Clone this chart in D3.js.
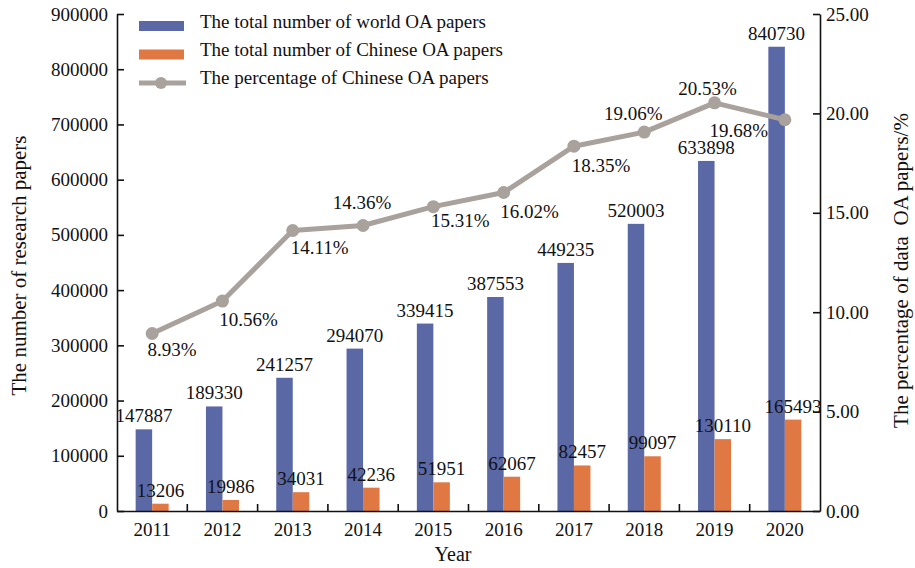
<!DOCTYPE html>
<html>
<head>
<meta charset="utf-8">
<script src="https://cdn.jsdelivr.net/npm/d3@7"></script>
<style>
  html, body { margin: 0; padding: 0; background: #ffffff; }
  svg { display: block; }
  svg text { font-family: "Liberation Serif", "Times New Roman", Times, "DejaVu Serif", serif !important; fill: #111; }
</style>
</head>
<body>
<svg id="chart" width="915" height="568" font-family="Liberation Serif, Times New Roman, serif"></svg>
<script>
// Open access papers, 2011-2020
const years = ["2011", "2012", "2013", "2014", "2015", "2016", "2017", "2018", "2019", "2020"];
const worldPapers = [147887, 189330, 241257, 294070, 339415, 387553, 449235, 520003, 633898, 840730];
const chinaPapers = [13206, 19986, 34031, 42236, 51951, 62067, 82457, 99097, 130110, 165493];
const chinaShare = [8.93, 10.56, 14.11, 14.36, 15.31, 16.02, 18.35, 19.06, 20.53, 19.68];
const leftTicks = [0, 100000, 200000, 300000, 400000, 500000, 600000, 700000, 800000, 900000];
const rightTicks = [0, 5, 10, 15, 20, 25];

const seriesNames = [
  "The total number of world OA papers",
  "The total number of Chinese OA papers",
  "The percentage of Chinese OA papers"
];

// where each percentage label sits relative to its point: [dx to centre, dy to baseline]
const shareLabelOffset = [[20, 23], [26, 25], [27, 24], [-1, -17], [27, 20], [26, 25], [27, 26], [-11, -12], [-7, -8], [-46, 17]];

const C_WORLD = "#5b68a6";
const C_CHINA = "#e07843";
const C_SHARE = "#a9a19c";
const FS = 19;
const FONT = "'Liberation Serif', 'Times New Roman', Times, 'DejaVu Serif', serif";

const svg = d3.select("#chart");
const m = { left: 117, right: 820, top: 14, bottom: 511 };

const x = d3.scaleBand().domain(years).range([m.left, m.right]).padding(0);
const xi = d3.scaleBand().domain(["world", "china"]).range([0, x.bandwidth()])
  .paddingInner(0).paddingOuter(1.13);
const y = d3.scaleLinear().domain([0, 900000]).range([m.bottom, m.top]);
const y2 = d3.scaleLinear().domain([0, 25]).range([m.bottom, m.top]);

const rows = years.map((yr, i) => ({ yr, world: worldPapers[i], china: chinaPapers[i], share: chinaShare[i], off: shareLabelOffset[i] }));
const cx = d => x(d.yr) + x.bandwidth() / 2;

// percentage labels
svg.append("g").selectAll("text").data(rows).join("text")
  .attr("x", d => cx(d) + d.off[0])
  .attr("y", d => y2(d.share) + d.off[1])
  .attr("text-anchor", "middle")
  .style("font-size", FS + "px")
  .text(d => d.share.toFixed(2) + "%");

// bars
const bars = svg.append("g");
bars.selectAll("rect.w").data(rows).join("rect").attr("class", "w")
  .attr("x", d => x(d.yr) + xi("world")).attr("width", xi.bandwidth())
  .attr("y", d => y(d.world)).attr("height", d => y(0) - y(d.world))
  .attr("fill", C_WORLD);
bars.selectAll("rect.c").data(rows).join("rect").attr("class", "c")
  .attr("x", d => x(d.yr) + xi("china")).attr("width", xi.bandwidth())
  .attr("y", d => y(d.china)).attr("height", d => y(0) - y(d.china))
  .attr("fill", C_CHINA);

// bar value labels
const bl = svg.append("g").style("font-size", FS + "px").attr("text-anchor", "middle");
bl.selectAll("text.w").data(rows).join("text").attr("class", "w")
  .attr("x", d => x(d.yr) + xi("world") + xi.bandwidth() / 2)
  .attr("y", d => y(d.world) - 7)
  .text(d => d.world);
bl.selectAll("text.c").data(rows).join("text").attr("class", "c")
  .attr("x", d => x(d.yr) + xi("china") + xi.bandwidth() / 2)
  .attr("y", d => y(d.china) - 7)
  .text(d => d.china);

// axes
function styleAxis(g) {
  g.attr("font-family", FONT);
  g.selectAll("path.domain").attr("stroke", "#111").attr("stroke-width", 1.6);
  g.selectAll(".tick line").attr("stroke", "#111").attr("stroke-width", 1.6);
  g.selectAll(".tick text").style("font-size", FS + "px").attr("fill", "#111");
}

const gl = svg.append("g").attr("transform", `translate(${m.left},0)`)
  .call(d3.axisLeft(y).tickValues(leftTicks).tickFormat(d3.format("d")).tickSizeInner(-7).tickSizeOuter(0).tickPadding(9));
styleAxis(gl);

const gr = svg.append("g").attr("transform", `translate(${m.right},0)`)
  .call(d3.axisRight(y2).tickValues(rightTicks).tickFormat(d3.format(".2f")).tickSizeInner(-7).tickSizeOuter(0).tickPadding(6));
styleAxis(gr);
gr.selectAll(".tick text").attr("x", 6);

const gx = svg.append("g").attr("transform", `translate(0,${m.bottom})`)
  .call(d3.axisBottom(x).tickSize(0).tickPadding(12));
styleAxis(gx);
gx.selectAll(".tick text").attr("dy", "0.71em");
// separators between year groups
gx.append("g").selectAll("line").data(years.slice(1)).join("line")
  .attr("x1", d => x(d)).attr("x2", d => x(d)).attr("y1", 0).attr("y2", -7)
  .attr("stroke", "#111").attr("stroke-width", 1.6);

// percentage line
const line = d3.line().x(cx).y(d => y2(d.share));
svg.append("path").datum(rows).attr("d", line)
  .attr("fill", "none").attr("stroke", C_SHARE).attr("stroke-width", 5).attr("stroke-linejoin", "round");
svg.append("g").selectAll("circle").data(rows).join("circle")
  .attr("cx", cx).attr("cy", d => y2(d.share)).attr("r", 6.5).attr("fill", C_SHARE);

// axis titles
svg.append("text").attr("transform", `translate(26,${(m.top + m.bottom) / 2 + 3}) rotate(-90)`)
  .attr("text-anchor", "middle").style("font-size", "21px").text("The number of research papers");
svg.append("text").attr("transform", `translate(908,${(m.top + m.bottom) / 2 + 8}) rotate(-90)`)
  .attr("text-anchor", "middle").style("font-size", "21px").attr("xml:space", "preserve")
  .style("white-space", "pre").text("The percentage of data  OA papers/%");
svg.append("text").attr("x", 453).attr("y", 561).attr("text-anchor", "middle")
  .style("font-size", "20px").text("Year");

// legend
const lg = svg.append("g").attr("transform", "translate(139,0)");
const legendRows = [0, 1, 2];
lg.selectAll("rect").data([C_WORLD, C_CHINA]).join("rect")
  .attr("x", 0).attr("y", (d, i) => 21 + i * 28.5).attr("width", 45).attr("height", 10).attr("fill", d => d);
lg.append("line").attr("x1", 0).attr("x2", 47).attr("y1", 83).attr("y2", 83)
  .attr("stroke", C_SHARE).attr("stroke-width", 5);
lg.append("circle").attr("cx", 22).attr("cy", 83).attr("r", 6).attr("fill", C_SHARE);
lg.selectAll("text").data(legendRows).join("text")
  .attr("x", 61).attr("y", i => 28 + i * 28)
  .style("font-size", FS + "px").attr("xml:space", "preserve").style("white-space", "pre")
  .text(i => seriesNames[i]);
</script>
</body>
</html>
